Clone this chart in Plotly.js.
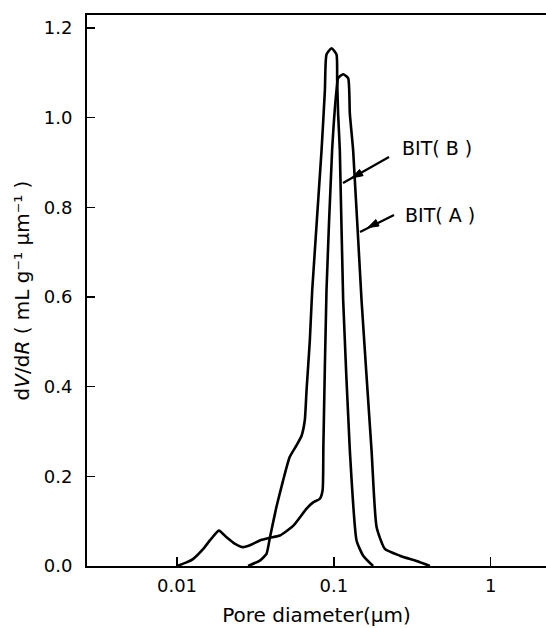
<!DOCTYPE html>
<html>
<head>
<meta charset="utf-8">
<script src="https://cdn.plot.ly/plotly-3.0.1.min.js"></script>
<style>html,body{margin:0;padding:0;background:#fff;}#chart{width:546px;height:628px;}</style>
</head>
<body>
<div id="chart"></div>
<script>
// Pore diameter (μm) and dV/dR (mL g^-1 μm^-1)
const bitA_x = [0.0100, 0.0115, 0.0127, 0.0147, 0.0162, 0.0185, 0.0207, 0.0233, 0.0264, 0.0299, 0.0337, 0.0391, 0.0453, 0.0552, 0.0670, 0.0738, 0.0815, 0.0848, 0.0858, 0.0898, 0.0975, 0.1040, 0.1065, 0.1147, 0.1234, 0.1265, 0.1328, 0.1502, 0.1740, 0.1873, 0.2116, 0.2637, 0.3370, 0.4100];
const bitA_y = [0.000, 0.008, 0.016, 0.038, 0.057, 0.079, 0.064, 0.050, 0.042, 0.048, 0.057, 0.063, 0.068, 0.090, 0.128, 0.142, 0.150, 0.169, 0.270, 0.615, 0.927, 1.061, 1.088, 1.097, 1.088, 1.009, 0.927, 0.593, 0.258, 0.087, 0.038, 0.023, 0.011, 0.000];

const bitB_x = [0.0284, 0.0337, 0.0372, 0.0391, 0.0430, 0.0475, 0.0523, 0.0578, 0.0622, 0.0653, 0.0670, 0.0703, 0.0728, 0.0835, 0.0877, 0.0898, 0.0967, 0.1040, 0.1050, 0.1065, 0.1092, 0.1147, 0.1265, 0.1396, 0.1538, 0.1780];
const bitB_y = [0.000, 0.012, 0.027, 0.063, 0.131, 0.191, 0.243, 0.269, 0.290, 0.325, 0.392, 0.503, 0.615, 0.927, 1.061, 1.141, 1.155, 1.141, 1.084, 1.009, 0.927, 0.593, 0.258, 0.057, 0.023, 0.000];

const xTickVals = [0.01, 0.1, 1];
const xTickText = ['0.01', '0.1', '1'];
const yTickVals = [0, 0.2, 0.4, 0.6, 0.8, 1.0, 1.2];
const yTickText = ['0.0', '0.2', '0.4', '0.6', '0.8', '1.0', '1.2'];
const seriesNames = ['BIT( A )', 'BIT( B )'];

const FONT = 'DejaVu Sans, Liberation Sans, Arial, sans-serif';
const lineStyle = {color: '#000', width: 2.6, shape: 'spline', smoothing: 0.5};

const traces = [
  {x: bitA_x, y: bitA_y, name: seriesNames[0], mode: 'lines', line: lineStyle, hoverinfo: 'x+y'},
  {x: bitB_x, y: bitB_y, name: seriesNames[1], mode: 'lines', line: lineStyle, hoverinfo: 'x+y'}
];

// plot area geometry (pixels)
const M = {l: 87, r: 0, t: 15, b: 62};
const W = 546, H = 628;
const PW = W - M.l - M.r, PH = H - M.t - M.b;
const px = v => (v - M.l) / PW;
const py = v => (H - M.b - v) / PH;

function pointer(x0, y0, x1, y1, bx, by) {
  // line from (x0,y0) to (x1,y1) with a filled arrowhead centred at (bx,by), pointing toward (x1,y1)
  const dx = x1 - x0, dy = y1 - y0, len = Math.hypot(dx, dy);
  const ux = dx / len, uy = dy / len;
  const tip = [bx + 6 * ux, by + 6 * uy];
  const bc = [bx - 5 * ux, by - 5 * uy];
  const p1 = [bc[0] - 3.6 * uy, bc[1] + 3.6 * ux];
  const p2 = [bc[0] + 3.6 * uy, bc[1] - 3.6 * ux];
  return [
    {type: 'line', xref: 'paper', yref: 'paper', x0: px(x0), y0: py(y0), x1: px(x1), y1: py(y1), line: {color: '#000', width: 2.2}},
    {type: 'path', xref: 'paper', yref: 'paper',
     path: `M ${px(tip[0])} ${py(tip[1])} L ${px(p1[0])} ${py(p1[1])} L ${px(p2[0])} ${py(p2[1])} Z`,
     fillcolor: '#000', line: {color: '#000', width: 1}}
  ];
}

const shapes = [].concat(
  pointer(389, 157, 343, 183, 357, 175),
  pointer(394, 215, 360, 232, 373, 225)
);

const L = Math.log10;
const annotations = [
  {x: L(0.454), y: 0.932, xref: 'x', yref: 'y', text: seriesNames[1], showarrow: false, font: {family: FONT, size: 19, color: '#000'}},
  {x: L(0.475), y: 0.784, xref: 'x', yref: 'y', text: seriesNames[0], showarrow: false, font: {family: FONT, size: 19, color: '#000'}}
];

const layout = {
  width: W, height: H,
  margin: {l: M.l, r: M.r, t: M.t, b: M.b, pad: 0},
  paper_bgcolor: '#fff', plot_bgcolor: '#fff',
  showlegend: false,
  font: {family: FONT, size: 18, color: '#000'},
  xaxis: {
    type: 'log', range: [-2.574, 0.353], autorange: false,
    showline: true, linecolor: '#000', linewidth: 2, mirror: true,
    ticks: 'inside', ticklen: 9, tickwidth: 1.5, tickcolor: '#000',
    tickvals: xTickVals, ticktext: xTickText,
    tickfont: {family: FONT, size: 18, color: '#000'},
    ticklabelstandoff: 2,
    showgrid: false, zeroline: false,
    title: {text: 'Pore diameter(μm)', font: {family: FONT, size: 20, color: '#000'}, standoff: 13}
  },
  yaxis: {
    range: [0, 1.229], autorange: false,
    showline: true, linecolor: '#000', linewidth: 2, mirror: false,
    ticks: 'inside', ticklen: 8, tickwidth: 1.5, tickcolor: '#000',
    tickvals: yTickVals, ticktext: yTickText,
    tickfont: {family: FONT, size: 18, color: '#000'},
    ticklabelstandoff: 9,
    showgrid: false, zeroline: false,
    title: {text: 'd<i>V</i>/d<i>R</i> ( mL g⁻¹ μm⁻¹ )', font: {family: FONT, size: 20, color: '#000'}, standoff: 9}
  },
  shapes: shapes,
  annotations: annotations
};

Plotly.newPlot('chart', traces, layout, {staticPlot: true, displayModeBar: false});
</script>
</body>
</html>
